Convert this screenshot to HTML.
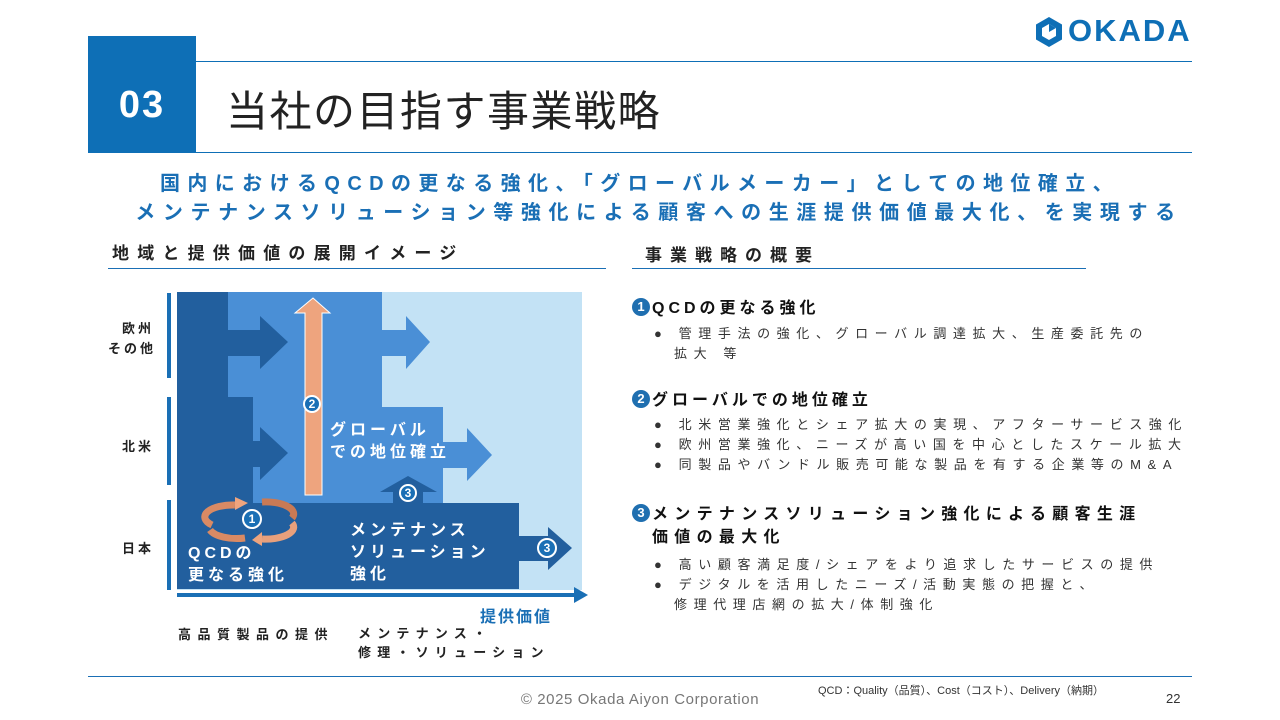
<!DOCTYPE html>
<html><head><meta charset="utf-8"><style>
body{margin:0;width:1280px;height:720px;background:#fff;position:relative;overflow:hidden;font-family:"Liberation Sans","Noto Sans CJK JP",sans-serif;color:#222}
.a{position:absolute;white-space:nowrap}
.h{font-weight:bold;font-size:16px;letter-spacing:4px;color:#111}
.b{font-size:13px;letter-spacing:6.6px;color:#333;line-height:20px}
.b div{padding-left:20px;text-indent:-20px}
.dot{display:inline-block;width:18px;height:18px;border-radius:50%;background:#1f6fb0;color:#fff;font-size:13px;text-align:center;line-height:18px;letter-spacing:0;margin-right:2px;vertical-align:2px}
</style></head><body>
<div class="a" style="left:88px;top:36px;width:108px;height:117px;background:#0e6fb6"></div>
<div class="a" style="left:88px;top:84px;width:108px;text-align:center;color:#fff;font-weight:bold;font-size:38px;letter-spacing:2px">03</div>
<div class="a" style="left:196px;top:61px;width:996px;height:1px;background:#0e6fb6"></div>
<div class="a" style="left:88px;top:152px;width:1104px;height:1px;background:#0e6fb6"></div>
<div class="a" style="left:226px;top:78px;font-size:42px;letter-spacing:1.5px;color:#222">当社の目指す事業戦略</div>
<svg class="a" style="left:1034px;top:16px" width="30" height="32" viewBox="0 0 30 32"><path d="M15 1 L28 8.5 L28 23.5 L15 31 L2 23.5 L2 8.5Z" fill="#0e6fb6"/><path d="M15 8 L22 12 L22 20 L15 24 L8 20 L8 12Z" fill="#fff"/><path d="M15 8 L22 12 L15 16Z" fill="#0e6fb6"/></svg>
<div class="a" style="left:1068px;top:13px;font-size:31px;font-weight:bold;color:#0e6fb6;letter-spacing:2px">OKADA</div>

<div class="a" style="left:0;width:1280px;top:167px;text-align:center;font-size:20px;font-weight:bold;color:#1a6fb5;letter-spacing:7.4px">国内におけるQCDの更なる強化、「グローバルメーカー」としての地位確立、</div>
<div class="a" style="left:0;width:1318px;top:196px;text-align:center;font-size:20px;font-weight:bold;color:#1a6fb5;letter-spacing:7.6px">メンテナンスソリューション等強化による顧客への生涯提供価値最大化、を実現する</div>

<div class="a" style="left:112px;top:239px;font-size:17px;font-weight:bold;letter-spacing:8.2px">地域と提供価値の展開イメージ</div>
<div class="a" style="left:108px;top:268px;width:498px;height:1px;background:#1a6fb5"></div>
<div class="a" style="left:645px;top:241px;font-size:17px;font-weight:bold;letter-spacing:8px">事業戦略の概要</div>
<div class="a" style="left:632px;top:268px;width:454px;height:1px;background:#1a6fb5"></div>

<svg class="a" style="left:0;top:0" width="620" height="620">
<rect x="177" y="292" width="405" height="298" fill="#c3e2f5"/>
<rect x="228" y="292" width="154" height="211" fill="#4a8fd6"/>
<rect x="382" y="407" width="61" height="96" fill="#4a8fd6"/>
<rect x="177" y="292" width="51" height="211" fill="#225f9e"/>
<rect x="177" y="397" width="76" height="106" fill="#225f9e"/>
<rect x="177" y="503" width="342" height="86" fill="#225f9e"/>
<polygon points="228,330 260,330 260,316 288,342 260,369 260,356 228,356" fill="#225f9e"/>
<polygon points="253,441 260,441 260,427 288,453 260,480 260,467 253,467" fill="#225f9e"/>
<polygon points="382,330 406,330 406,316 430,342 406,369 406,356 382,356" fill="#4a8fd6"/>
<polygon points="443,442 467,442 467,428 492,455 467,481 467,468 443,468" fill="#4a8fd6"/>
<polygon points="519,536 548,536 548,527 572,548 548,570 548,561 519,561" fill="#225f9e"/>
<polygon points="393,503 393,492 380,492 408,476 437,492 423,492 423,503" fill="#225f9e"/>
<polygon points="305,495 305,313 295,313 313,298 330,313 322,313 322,495" fill="#eea47e" stroke="#fff" stroke-width="1"/>
<rect x="167" y="293" width="4" height="85" fill="#1a6fb5"/>
<rect x="167" y="397" width="4" height="88" fill="#1a6fb5"/>
<rect x="167" y="500" width="4" height="90" fill="#1a6fb5"/>
<rect x="177" y="593" width="398" height="4" fill="#1a6fb5"/>
<polygon points="574,587 588,595 574,603" fill="#1a6fb5"/>
<g fill="none" stroke-width="7">
<path d="M235 505 A28 12 0 0 0 212 525" stroke="#d98a64"/>
<path d="M262 502 A28 12 0 0 1 292 518" stroke="#c97a55"/>
<path d="M210 530 A28 12 0 0 0 245 538" stroke="#d98a64"/>
<path d="M292 523 A28 12 0 0 1 262 539" stroke="#e8a07c"/>
</g>
<polygon points="235,497 248,503 235,510" fill="#eea47e"/>
<polygon points="262,532 252,540 262,546" fill="#eea47e"/>
<g font-family="Liberation Sans" font-weight="bold" font-size="12" fill="#fff" text-anchor="middle">
<circle cx="252" cy="519" r="9" fill="#1a6fb5" stroke="#fff" stroke-width="2"/><text x="252" y="523">1</text>
<circle cx="312" cy="404" r="8" fill="#1a6fb5" stroke="#fff" stroke-width="2"/><text x="312" y="408">2</text>
<circle cx="408" cy="493" r="8" fill="#1a6fb5" stroke="#fff" stroke-width="2"/><text x="408" y="497">3</text>
<circle cx="547" cy="548" r="9" fill="#1a6fb5" stroke="#fff" stroke-width="2"/><text x="547" y="552">3</text>
</g>
</svg>
<div class="a" style="left:330px;top:420px;color:#fff;font-weight:bold;font-size:16px;letter-spacing:4px;line-height:22px">グローバル<br>での地位確立</div>
<div class="a" style="left:350px;top:520px;color:#fff;font-weight:bold;font-size:16px;letter-spacing:4px;line-height:22px">メンテナンス<br>ソリューション<br>強化</div>
<div class="a" style="left:188px;top:543px;color:#fff;font-weight:bold;font-size:16px;letter-spacing:4px;line-height:22px">QCDの<br>更なる強化</div>
<div class="a" style="left:108px;top:319px;width:46px;text-align:right;font-weight:bold;font-size:13px;letter-spacing:3px;line-height:20px">欧州<br>その他</div>
<div class="a" style="left:108px;top:436px;width:46px;text-align:right;font-weight:bold;font-size:13px;letter-spacing:3px">北米</div>
<div class="a" style="left:108px;top:538px;width:46px;text-align:right;font-weight:bold;font-size:13px;letter-spacing:3px">日本</div>
<div class="a" style="left:480px;top:603px;color:#1a6fb5;font-weight:bold;font-size:16px;letter-spacing:2px">提供価値</div>
<div class="a" style="left:178px;top:624px;font-weight:bold;font-size:13px;letter-spacing:6.5px">高品質製品の提供</div>
<div class="a" style="left:358px;top:624px;font-weight:bold;font-size:13px;letter-spacing:6.2px;line-height:19px">メンテナンス・<br>修理・ソリューション</div>

<div class="a h" style="left:632px;top:294px"><span class="dot">1</span>QCDの更なる強化</div>
<div class="a b" style="left:654px;top:324px"><div>●&nbsp;管理手法の強化、グローバル調達拡大、生産委託先の<br>拡大 等</div></div>
<div class="a h" style="left:632px;top:386px"><span class="dot">2</span>グローバルでの地位確立</div>
<div class="a b" style="left:654px;top:415px"><div>●&nbsp;北米営業強化とシェア拡大の実現、アフターサービス強化</div><div>●&nbsp;欧州営業強化、ニーズが高い国を中心としたスケール拡大</div><div>●&nbsp;同製品やバンドル販売可能な製品を有する企業等のM&amp;A</div></div>
<div class="a h" style="left:632px;top:503px;line-height:23px;letter-spacing:6.3px;padding-left:20px;text-indent:-20px"><span class="dot" style="text-indent:0">3</span>メンテナンスソリューション強化による顧客生涯<br>価値の最大化</div>
<div class="a b" style="left:654px;top:555px"><div>●&nbsp;高い顧客満足度/シェアをより追求したサービスの提供</div><div>●&nbsp;デジタルを活用したニーズ/活動実態の把握と、<br>修理代理店網の拡大/体制強化</div></div>

<div class="a" style="left:88px;top:676px;width:1104px;height:1px;background:#1a6fb5"></div>
<div class="a" style="left:818px;top:682px;font-size:11px;color:#333">QCD：Quality（品質）、Cost（コスト）、Delivery（納期）</div>
<div class="a" style="left:0;width:1280px;top:691px;text-align:center;font-size:15px;letter-spacing:0.6px;color:#777">© 2025 Okada Aiyon Corporation</div>
<div class="a" style="left:1166px;top:691px;font-size:13px;color:#333">22</div>
</body></html>
